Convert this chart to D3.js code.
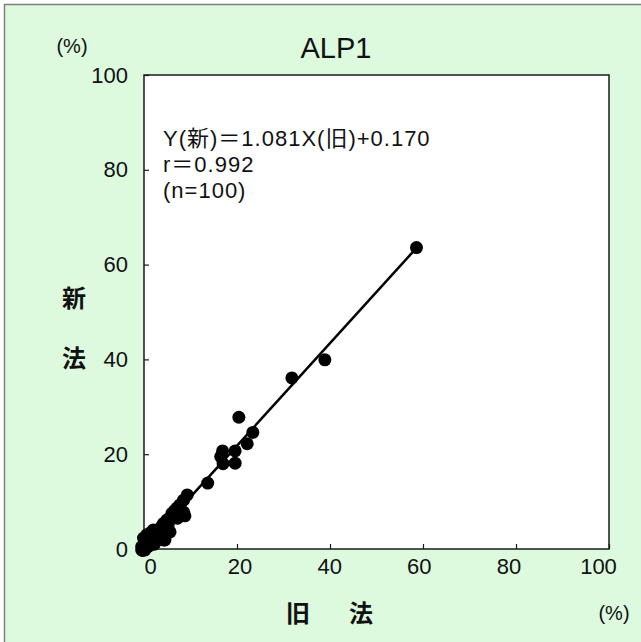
<!DOCTYPE html>
<html>
<head>
<meta charset="utf-8">
<script src="https://cdn.jsdelivr.net/npm/d3@7"></script>
<style>
  html, body { margin: 0; padding: 0; background: #ffffff; }
  svg { display: block; }
</style>
</head>
<body>
<svg id="chart" width="641" height="642"></svg>
<script>
// ---- data ----
const title = "ALP1";
const xLabel = ["旧", "法"];
const yLabel = ["新", "法"];
const unitLabel = "(%)";
const xTicks = [0, 20, 40, 60, 80, 100];
const yTicks = [0, 20, 40, 60, 80, 100];
const equationLines = ["Y(新)＝1.081X(旧)+0.170", "r＝0.992", "(n=100)"];
const slope = 1.081;
const intercept = 0.170;
const oldMethod = [58.6, 38.9, 31.8, 20.4, 23.4, 22.2, 16.9, 16.5, 19.6, 17.0, 19.6, 13.7,
  9.3, 8.5, 7.7, 7.0, 8.8, 8.5, 6.0, 4.9, 4.2, 4.5, 2.0, 0.6, -0.1, 4.5, 4.7, 0.2, -0.5,
  1.3, 2.7, 3.4, 5.5, 3.0, 1.5, 0.0, 2.2, 3.8, 6.5, 1.0, -0.3, 0.8, 2.5, 5.0, 3.5, 7.2,
  -0.5, 1.3, 1.7, 4.2, 5.6, 5.2];
const newMethod = [63.6, 39.9, 36.1, 27.8, 24.6, 22.2, 20.7, 19.5, 20.7, 18.0, 18.1, 13.9,
  11.4, 10.3, 9.3, 8.6, 7.0, 7.8, 7.5, 6.1, 5.4, 4.4, 4.0, 3.0, 2.3, 1.9, 3.0, -0.2, 0.5,
  1.2, 2.6, 3.6, 6.5, 2.0, 3.5, 1.0, 1.0, 4.8, 8.0, 2.0, -0.3, 0.5, 3.3, 5.0, 2.5, 6.5,
  -0.2, 0.8, 3.6, 1.9, 3.6, 5.1];

// ---- chart ----
const svg = d3.select("#chart");
const W = 641, H = 642;
const plot = { left: 144, right: 609, top: 75, bottom: 549 };

const x = d3.scaleLinear().domain([0, 100]).range([plot.left, plot.right]);
const y = d3.scaleLinear().domain([0, 100]).range([plot.bottom, plot.top]);
// tick label positions in the reference are slightly compressed relative to the ticks
const xLab = d3.scaleLinear().domain([0, 100]).range([150, 598]);

// background panel
svg.append("rect").attr("x", 0).attr("y", 0).attr("width", W).attr("height", H).attr("fill", "#ffffff");
svg.append("rect").attr("x", 4.5).attr("y", 4.5).attr("width", W + 10).attr("height", H + 10)
  .attr("fill", "#ddfadf").attr("stroke", "#7f7f7f").attr("stroke-width", 1.5);

// plot area
svg.append("rect").attr("x", plot.left).attr("y", plot.top)
  .attr("width", plot.right - plot.left).attr("height", plot.bottom - plot.top)
  .attr("fill", "#ffffff").attr("stroke", "#1a1a1a").attr("stroke-width", 1.5);

const fontLatin = "'Liberation Sans', Arial, 'Noto Sans CJK JP', sans-serif";
const fontJP = "'Noto Sans CJK JP', sans-serif";

// axes
const xAxis = d3.axisBottom(x).tickValues(xTicks).tickSizeInner(-5).tickSizeOuter(0).tickPadding(9);
const gx = svg.append("g").attr("transform", `translate(0,${plot.bottom})`).call(xAxis);
gx.select(".domain").remove();
gx.selectAll(".tick line").attr("stroke", "#1a1a1a").attr("stroke-width", 1.2);
gx.selectAll(".tick text").attr("font-family", fontLatin).attr("font-size", 22).attr("fill", "#111")
  .attr("dx", d => xLab(d) - x(d));

const yAxis = d3.axisLeft(y).tickValues(yTicks).tickSizeInner(-5).tickSizeOuter(0).tickPadding(16);
const gy = svg.append("g").attr("transform", `translate(${plot.left},0)`).call(yAxis);
gy.select(".domain").remove();
gy.selectAll(".tick line").attr("stroke", "#1a1a1a").attr("stroke-width", 1.2);
gy.selectAll(".tick text").attr("font-family", fontLatin).attr("font-size", 22).attr("fill", "#111");

// regression line
const xs = d3.extent(oldMethod);
svg.append("line")
  .attr("x1", x(xs[0])).attr("y1", y(slope * xs[0] + intercept))
  .attr("x2", x(xs[1])).attr("y2", y(slope * xs[1] + intercept))
  .attr("stroke", "#000").attr("stroke-width", 2.5);

// points
svg.append("g").selectAll("circle").data(oldMethod.map((v, i) => [v, newMethod[i]])).join("circle")
  .attr("cx", d => x(d[0])).attr("cy", d => y(d[1])).attr("r", 6.5).attr("fill", "#000");

// equation text
svg.append("g").selectAll("text").data(equationLines).join("text")
  .attr("x", 163).attr("y", (d, i) => 146 + i * 26)
  .attr("font-family", fontLatin).attr("font-size", 22).attr("letter-spacing", 1).attr("fill", "#111")
  .text(d => d);

// title
svg.append("text").attr("x", 336).attr("y", 58).attr("text-anchor", "middle")
  .attr("font-family", fontLatin).attr("font-size", 29).attr("fill", "#111").text(title);

// unit labels
svg.append("text").attr("x", 72).attr("y", 53).attr("text-anchor", "middle")
  .attr("font-family", fontLatin).attr("font-size", 20).attr("fill", "#111").text(unitLabel);
svg.append("text").attr("x", 614).attr("y", 620).attr("text-anchor", "middle")
  .attr("font-family", fontLatin).attr("font-size", 20).attr("fill", "#111").text(unitLabel);

// axis titles
svg.append("g").selectAll("text").data(xLabel).join("text")
  .attr("x", (d, i) => 298 + i * 63).attr("y", 622).attr("text-anchor", "middle")
  .attr("font-family", fontJP).attr("font-weight", 700).attr("font-size", 24).attr("fill", "#111")
  .text(d => d);
svg.append("g").selectAll("text").data(yLabel).join("text")
  .attr("x", 74).attr("y", (d, i) => 307 + i * 60).attr("text-anchor", "middle")
  .attr("font-family", fontJP).attr("font-weight", 700).attr("font-size", 24).attr("fill", "#111")
  .text(d => d);
</script>
</body>
</html>
